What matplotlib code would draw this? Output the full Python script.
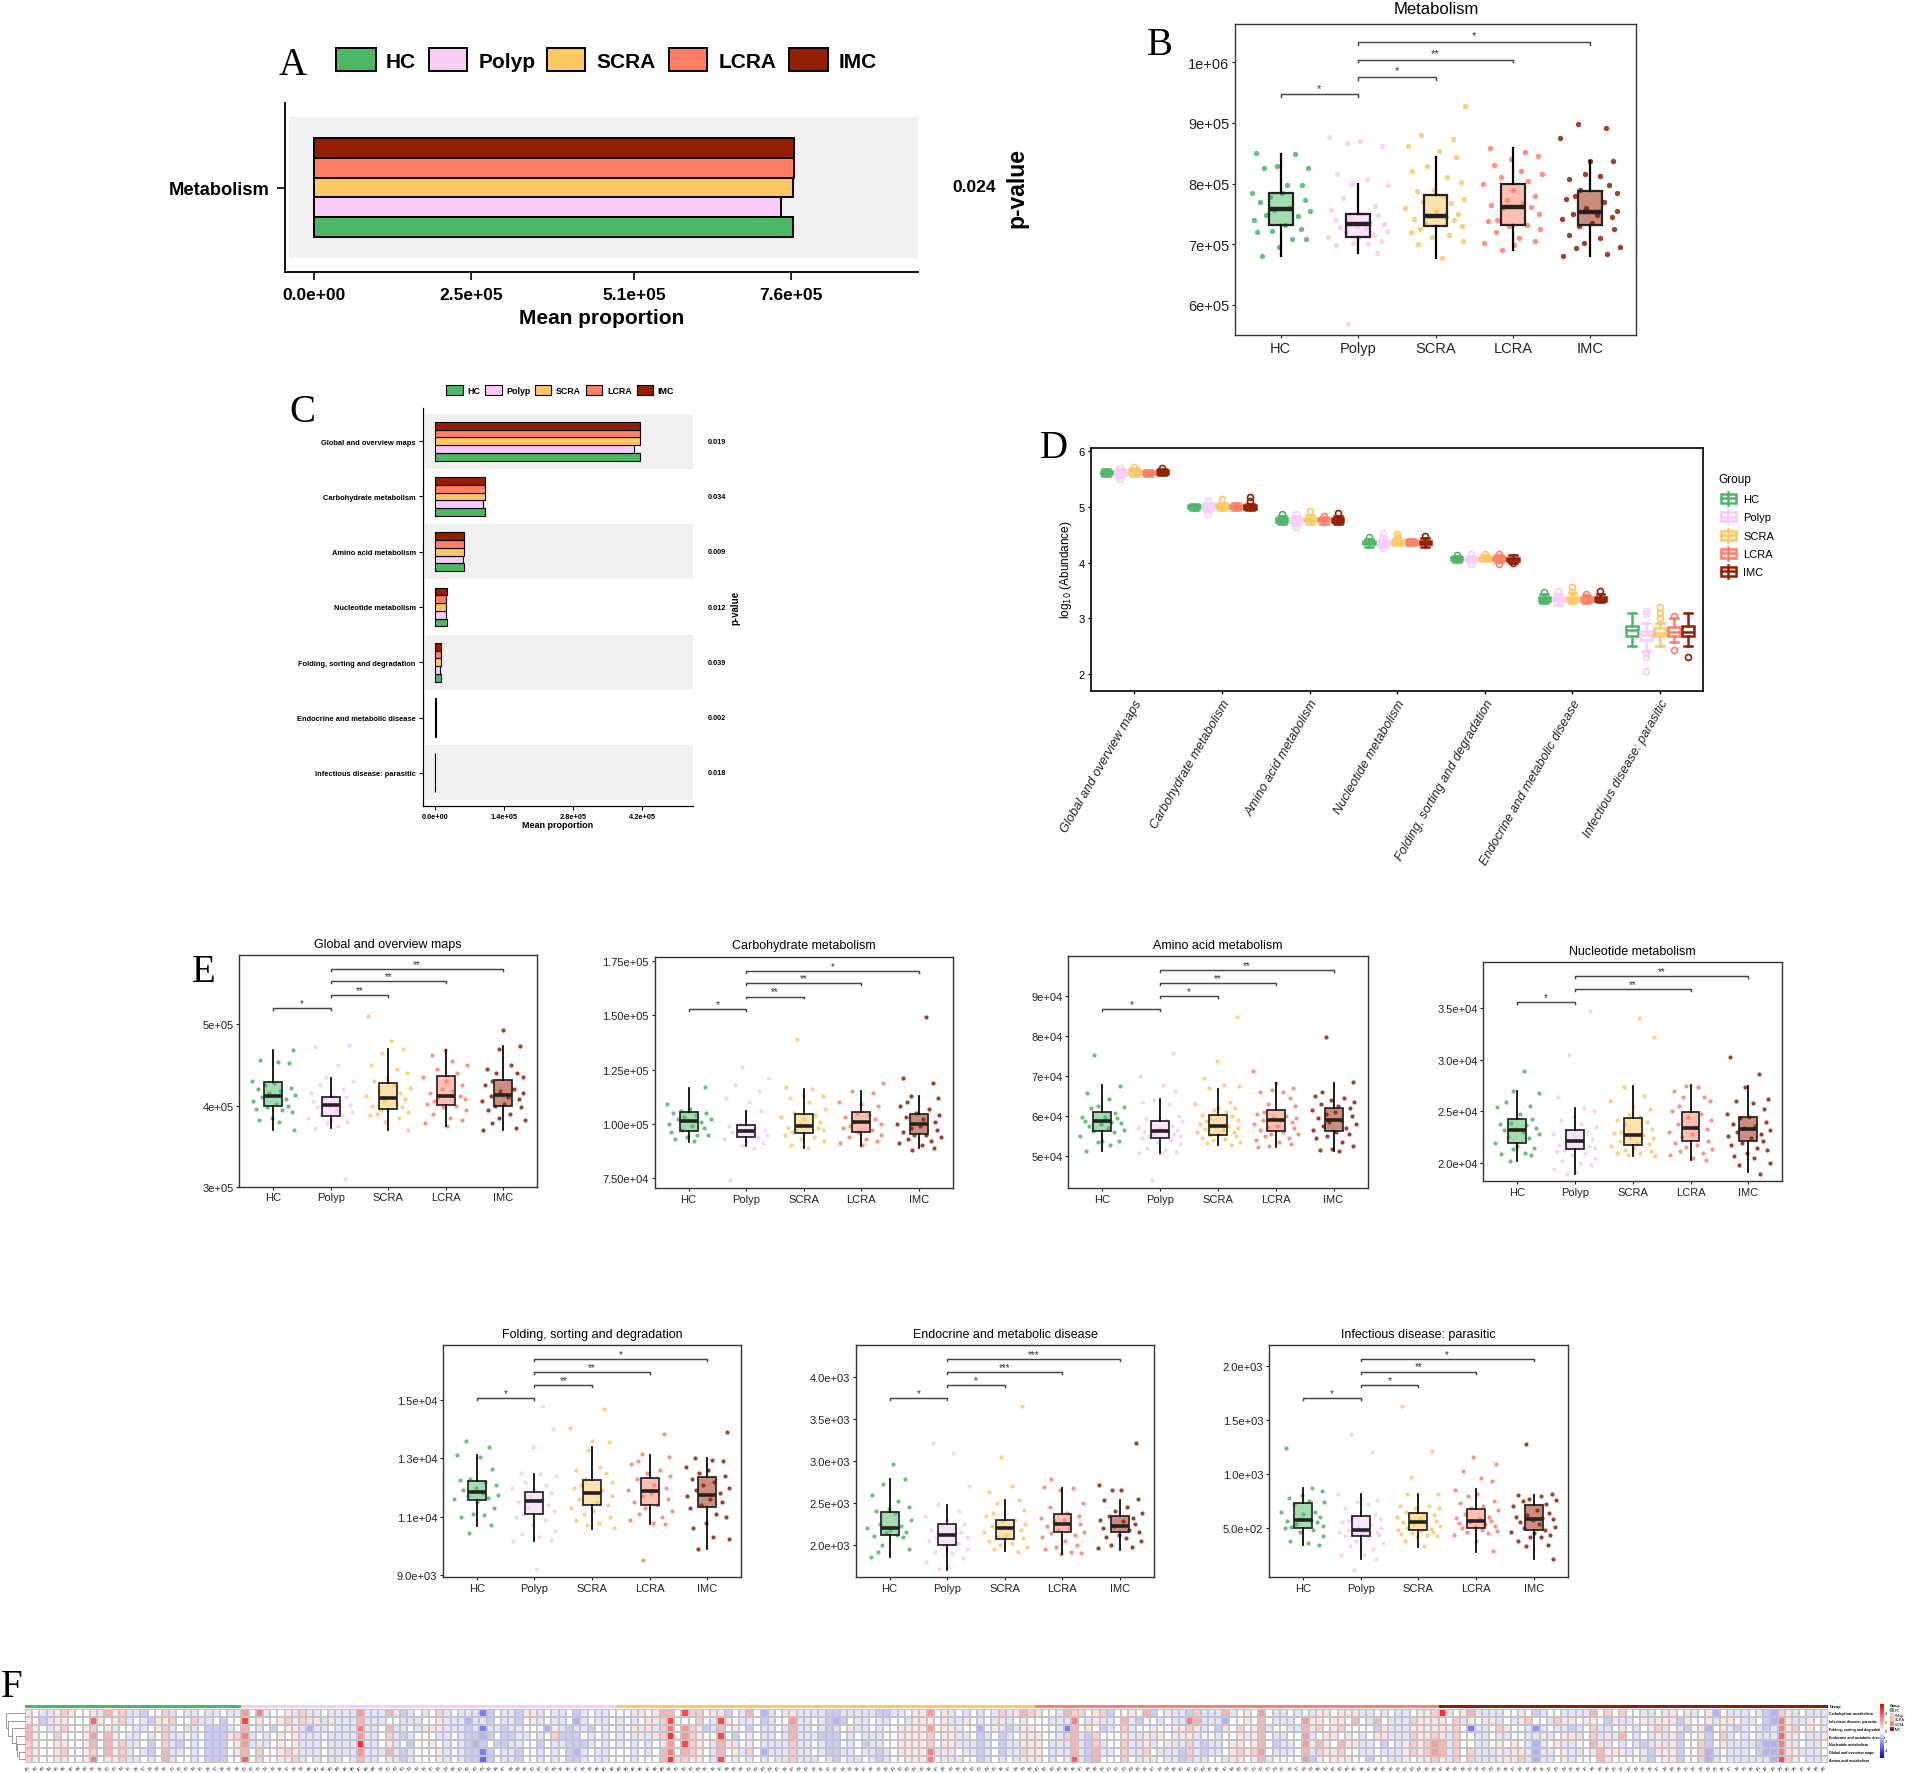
import matplotlib
matplotlib.use("Agg")
import matplotlib.pyplot as plt
import numpy as np
from matplotlib.patches import Rectangle
from matplotlib.lines import Line2D
from matplotlib.colors import LinearSegmentedColormap, ListedColormap, to_rgba

plt.rcParams['font.family'] = ['Liberation Sans', 'DejaVu Sans']
W, H = 1905, 1774
fig = plt.figure(figsize=(W / 100, H / 100), dpi=100, facecolor='white')

GROUPS = ['HC', 'Polyp', 'SCRA', 'LCRA', 'IMC']
COLORS = ['#4CB865', '#F9CBF9', '#FDC763', '#FF7F66', '#941E00']
CATS = ['Global and overview maps', 'Carbohydrate metabolism', 'Amino acid metabolism',
        'Nucleotide metabolism', 'Folding, sorting and degradation',
        'Endocrine and metabolic disease', 'Infectious disease: parasitic']
PVALS = ['0.019', '0.034', '0.009', '0.012', '0.039', '0.002', '0.018']

# Panel A
A_MEANS = [7.63e5, 7.43e5, 7.625e5, 7.65e5, 7.64e5]
# Panel C, group means per category (1e5)
C_MEANS = [[4.166, 4.03, 4.16, 4.165, 4.16],
           [1.014, 0.98, 1.012, 1.014, 1.012],
           [0.595, 0.572, 0.59, 0.59, 0.595],
           [0.237, 0.216, 0.232, 0.232, 0.235],
           [0.122, 0.108, 0.118, 0.118, 0.122],
           [0.0225, 0.021, 0.0222, 0.0226, 0.0225],
           [0.0058, 0.0052, 0.0056, 0.0057, 0.0058]]

# box values: q1, median, q3, low whisker, high whisker
METAB_BOX = [[7.31, 7.58, 7.85, 6.8, 8.48], [7.125, 7.34, 7.5, 6.86, 8.0], [7.3, 7.47, 7.81, 6.77, 8.44],
             [7.32, 7.62, 8.0, 6.9, 8.58], [7.32, 7.53, 7.88, 6.8, 8.38]]
METAB_PTS = [
    [8.51,8.48,8.29,8.26,8.25,7.98,7.98,7.85,7.84,7.78,7.72,7.7,7.6,7.56,7.54,7.48,7.47,7.4,7.32,7.25,7.22,7.2,7.08,7.08,6.96,6.81],
    [8.77,8.7,8.67,8.62,8.16,8.08,8.0,7.98,7.76,7.63,7.56,7.5,7.48,7.45,7.4,7.35,7.33,7.3,7.28,7.25,7.22,7.2,7.15,7.12,7.1,7.05,7.02,7.0,6.98,6.85,5.68],
    [9.28,8.8,8.74,8.62,8.53,8.44,8.29,8.2,8.1,8.02,7.9,7.88,7.8,7.75,7.7,7.68,7.6,7.55,7.5,7.47,7.45,7.42,7.4,7.35,7.3,7.25,7.2,7.15,7.12,7.05,7.0,6.77],
    [8.58,8.52,8.45,8.4,8.3,8.2,8.15,8.1,8.05,8.0,7.9,7.8,7.72,7.68,7.65,7.62,7.6,7.5,7.4,7.38,7.32,7.3,7.25,7.2,7.1,7.05,7.02,6.98,6.9],
    [8.99,8.91,8.75,8.38,8.37,8.15,8.13,8.08,7.97,7.9,7.85,7.8,7.75,7.7,7.6,7.55,7.5,7.48,7.45,7.42,7.35,7.3,7.25,7.15,7.1,7.02,6.96,6.94,6.84,6.8]]
METAB_BR = [9.47, 9.755, 10.04, 10.33]
METAB_STARS = ['*', '*', '**', '*']

GLOBAL_BOX = [[3.99,4.123,4.287,3.7,4.68],[3.877,4.01,4.1,3.72,4.337],[3.96,4.094,4.275,3.7,4.7],
              [4.01,4.12,4.36,3.75,4.68],[4.0,4.13,4.32,3.7,4.73]]
GLOBAL_PTS = [
    [4.68,4.56,4.54,4.53,4.3,4.28,4.25,4.22,4.2,4.18,4.16,4.13,4.1,4.08,4.05,4.02,4.0,3.98,3.96,3.95,3.92,3.85,3.82,3.8,3.7],
    [4.75,4.72,4.5,4.35,4.3,4.25,4.2,4.15,4.12,4.1,4.08,4.05,4.03,4.01,4.0,3.98,3.95,3.92,3.9,3.88,3.85,3.82,3.8,3.78,3.75,3.72,3.1],
    [5.1,4.8,4.7,4.65,4.5,4.45,4.4,4.35,4.3,4.25,4.22,4.18,4.15,4.12,4.1,4.08,4.05,4.03,4.0,3.98,3.95,3.92,3.9,3.88,3.85,3.8,3.7],
    [4.68,4.62,4.55,4.5,4.45,4.4,4.35,4.3,4.25,4.2,4.18,4.15,4.12,4.1,4.08,4.05,4.02,4.0,3.98,3.95,3.9,3.85,3.82,3.78,3.75],
    [4.93,4.73,4.7,4.5,4.45,4.4,4.4,4.35,4.3,4.25,4.2,4.18,4.15,4.12,4.1,4.08,4.05,4.02,4.0,3.98,3.95,3.9,3.85,3.82,3.78,3.72,3.7]]
GLOBAL_BR = [5.20, 5.36, 5.53, 5.68]
GLOBAL_STARS = ['*', '**', '**', '**']

CARB_BOX = [[0.968,1.015,1.054,0.917,1.167],[0.937,0.968,0.992,0.896,1.057],[0.959,0.988,1.043,0.89,1.16],
            [0.96,1.006,1.055,0.896,1.152],[0.951,0.997,1.044,0.887,1.129]]
CARB_PTS = [
    [1.17,1.09,1.07,1.06,1.05,1.05,1.04,1.03,1.02,1.02,1.01,1.0,0.99,0.98,0.97,0.96,0.95,0.95,0.94,0.93,0.92],
    [1.26,1.21,1.18,1.15,1.12,1.1,1.06,1.0,0.99,0.98,0.97,0.97,0.96,0.96,0.95,0.95,0.94,0.93,0.92,0.91,0.9,0.89,0.74],
    [1.39,1.17,1.16,1.13,1.13,1.12,1.1,1.07,1.05,1.04,1.03,1.02,1.01,1.0,0.99,0.98,0.98,0.97,0.97,0.96,0.95,0.94,0.93,0.92,0.9,0.89],
    [1.19,1.15,1.14,1.1,1.09,1.08,1.05,1.04,1.03,1.02,1.01,1.0,0.99,0.98,0.97,0.96,0.95,0.94,0.93,0.92,0.91,0.9],
    [1.49,1.21,1.19,1.13,1.12,1.1,1.08,1.07,1.05,1.04,1.03,1.02,1.01,1.0,0.99,0.98,0.97,0.96,0.95,0.95,0.94,0.93,0.92,0.91,0.9,0.89,0.88]]
CARB_BR = [1.528, 1.586, 1.647, 1.705]
CARB_STARS = ['*', '**', '**', '*']

AMINO_BOX = [[5.625,5.89,6.1,5.125,6.77],[5.45,5.63,5.87,5.09,6.43],[5.54,5.75,6.03,5.29,6.69],
             [5.63,5.91,6.15,5.225,6.825],[5.64,5.91,6.2,5.125,6.84]]
AMINO_PTS = [
    [7.54,6.76,6.59,6.43,6.25,6.24,6.2,6.08,5.98,5.97,5.95,5.9,5.87,5.85,5.82,5.8,5.75,5.7,5.65,5.62,5.6,5.5,5.38,5.37,5.35,5.29,5.13],
    [7.57,7.0,6.77,6.64,6.4,6.35,6.3,6.0,5.95,5.92,5.9,5.87,5.8,5.75,5.7,5.7,5.65,5.65,5.6,5.6,5.55,5.55,5.5,5.5,5.45,5.4,5.35,5.3,5.2,5.15,5.1,5.08,5.07,4.4],
    [8.47,7.37,6.96,6.77,6.76,6.7,6.35,6.3,6.2,6.2,6.15,6.1,6.03,6.0,5.95,5.9,5.87,5.8,5.75,5.72,5.7,5.68,5.65,5.6,5.6,5.55,5.52,5.5,5.45,5.42,5.4,5.35,5.33,5.29],
    [7.14,6.82,6.7,6.65,6.6,6.6,6.45,6.3,6.25,6.1,6.05,6.0,5.95,5.95,5.9,5.9,5.85,5.8,5.75,5.72,5.7,5.65,5.6,5.55,5.55,5.5,5.45,5.4,5.35,5.3,5.25,5.22],
    [7.98,6.85,6.6,6.5,6.45,6.4,6.35,6.3,6.25,6.2,6.15,6.1,6.05,6.0,5.95,5.9,5.85,5.8,5.75,5.7,5.65,5.6,5.55,5.5,5.45,5.35,5.25,5.18,5.15,5.13]]
AMINO_BR = [8.68, 9.01, 9.33, 9.66]
AMINO_STARS = ['*', '*', '**', '**']

NUCL_BOX = [[2.2,2.318,2.427,2.026,2.694],[2.14,2.218,2.32,1.9,2.536],[2.177,2.273,2.44,2.07,2.748],
            [2.215,2.344,2.495,2.035,2.758],[2.212,2.328,2.443,1.913,2.742]]
NUCL_PTS = [
    [2.89,2.7,2.68,2.59,2.55,2.54,2.48,2.43,2.39,2.38,2.37,2.34,2.33,2.32,2.3,2.28,2.25,2.24,2.2,2.17,2.15,2.14,2.1,2.09,2.08,2.02],
    [3.47,3.04,2.64,2.53,2.5,2.45,2.42,2.38,2.35,2.32,2.3,2.28,2.25,2.23,2.22,2.2,2.18,2.17,2.16,2.15,2.13,2.12,2.1,2.08,2.05,2.02,2.0,1.98,1.95,1.92,1.9],
    [3.4,3.22,2.74,2.65,2.6,2.55,2.52,2.48,2.45,2.42,2.4,2.38,2.33,2.3,2.29,2.27,2.25,2.24,2.22,2.2,2.19,2.17,2.15,2.13,2.12,2.1,2.1,2.08,2.07],
    [2.75,2.74,2.7,2.64,2.64,2.6,2.55,2.5,2.48,2.45,2.42,2.38,2.35,2.33,2.3,2.28,2.25,2.22,2.2,2.18,2.16,2.14,2.12,2.1,2.08,2.05,2.03],
    [3.02,2.86,2.74,2.62,2.6,2.58,2.52,2.48,2.45,2.44,2.4,2.38,2.36,2.34,2.32,2.3,2.28,2.26,2.24,2.22,2.2,2.18,2.15,2.13,2.1,2.07,2.05,2.0,1.98,1.9]]
NUCL_BR = [3.555, None, 3.68, 3.805]
NUCL_STARS = ['*', '', '**', '**']

FOLD_BOX = [[11.57,11.83,12.22,10.69,13.11],[11.09,11.53,11.85,10.18,12.45],[11.41,11.81,12.25,10.58,13.38],
            [11.41,11.89,12.33,10.75,13.11],[11.34,11.74,12.37,9.89,13.0]]
FOLD_PTS = [
    [13.6,13.4,13.1,13.05,12.65,12.3,12.25,12.2,12.1,12.0,11.9,11.8,11.75,11.7,11.65,11.6,11.5,11.3,11.1,11.05,11.0,10.7,10.45],
    [14.8,14.0,13.4,12.5,12.45,12.4,12.2,12.1,12.0,11.9,11.8,11.7,11.6,11.5,11.4,11.3,11.2,11.1,11.0,10.9,10.7,10.5,10.4,10.3,10.2,10.15,9.2],
    [14.7,14.05,13.6,13.55,13.3,12.7,12.6,12.5,12.3,12.2,12.1,12.0,11.9,11.8,11.7,11.6,11.5,11.4,11.3,11.2,11.1,11.0,10.9,10.8,10.7,10.6],
    [13.85,13.15,13.05,12.9,12.8,12.6,12.5,12.4,12.3,12.1,12.0,11.9,11.8,11.7,11.6,11.5,11.4,11.3,11.2,11.1,11.0,10.9,10.8,10.75,9.5],
    [13.9,13.0,12.95,12.9,12.7,12.6,12.5,12.4,12.3,12.2,12.1,12.0,11.9,11.8,11.7,11.6,11.5,11.4,11.3,11.1,11.0,10.8,10.6,10.3,10.25,9.9]]
FOLD_BR = [15.06, 15.51, 15.97, 16.41]
FOLD_STARS = ['*', '**', '**', '*']

ENDO_BOX = [[2.12,2.2,2.397,1.86,2.78],[2.0,2.12,2.25,1.706,2.48],[2.07,2.2,2.3,1.93,2.54],
            [2.15,2.25,2.37,1.89,2.68],[2.15,2.22,2.345,1.94,2.54]]
ENDO_PTS = [
    [2.97,2.78,2.72,2.59,2.52,2.45,2.43,2.4,2.38,2.3,2.25,2.22,2.2,2.18,2.16,2.14,2.12,2.11,2.1,2.0,1.95,1.92,1.86],
    [3.21,3.09,2.7,2.49,2.4,2.35,2.3,2.25,2.22,2.2,2.18,2.15,2.12,2.1,2.08,2.05,2.02,2.0,1.95,1.92,1.9,1.85,1.8,1.75,1.71],
    [3.65,3.05,2.7,2.63,2.54,2.5,2.42,2.38,2.35,2.3,2.28,2.25,2.22,2.2,2.18,2.15,2.12,2.1,2.08,2.05,2.02,2.0,1.98,1.95,1.92],
    [2.78,2.69,2.68,2.65,2.5,2.45,2.38,2.35,2.32,2.3,2.28,2.25,2.22,2.2,2.18,2.16,2.14,2.12,2.1,2.05,2.0,1.98,1.95,1.92,1.9,1.89],
    [3.21,2.71,2.66,2.65,2.55,2.54,2.45,2.4,2.38,2.35,2.32,2.3,2.28,2.25,2.22,2.2,2.18,2.15,2.12,2.1,2.08,2.05,2.0,1.98,1.96]]
ENDO_BR = [3.746, 3.905, 4.063, 4.214]
ENDO_STARS = ['*', '*', '***', '***']

INFE_BOX = [[0.5,0.571,0.732,0.339,0.869],[0.426,0.481,0.612,0.209,0.813],[0.481,0.55,0.639,0.317,0.813],
            [0.497,0.565,0.674,0.277,0.859],[0.475,0.58,0.711,0.209,0.807]]
INFE_PTS = [
    [1.24,0.87,0.84,0.8,0.78,0.75,0.74,0.72,0.65,0.65,0.63,0.6,0.58,0.57,0.56,0.55,0.53,0.52,0.51,0.5,0.48,0.46,0.42,0.38,0.36,0.34],
    [1.37,1.2,0.81,0.78,0.76,0.74,0.72,0.68,0.63,0.6,0.58,0.56,0.55,0.53,0.51,0.5,0.48,0.47,0.46,0.46,0.45,0.44,0.43,0.42,0.4,0.38,0.36,0.33,0.3,0.25,0.25,0.21,0.11],
    [1.63,1.21,0.97,0.81,0.81,0.7,0.7,0.68,0.68,0.65,0.64,0.62,0.6,0.59,0.57,0.56,0.55,0.54,0.53,0.52,0.5,0.49,0.48,0.47,0.46,0.45,0.44,0.43,0.42,0.41,0.38,0.33],
    [1.16,1.09,1.03,0.96,0.93,0.85,0.81,0.79,0.75,0.73,0.7,0.68,0.66,0.63,0.6,0.59,0.58,0.56,0.55,0.54,0.53,0.52,0.51,0.5,0.48,0.47,0.46,0.45,0.43,0.38,0.28],
    [1.28,0.81,0.8,0.79,0.77,0.76,0.75,0.72,0.7,0.66,0.64,0.62,0.6,0.59,0.58,0.57,0.55,0.53,0.51,0.5,0.48,0.46,0.45,0.43,0.41,0.41,0.38,0.34,0.33,0.21]]
INFE_BR = [1.702, 1.826, 1.95, 2.068]
INFE_STARS = ['*', '*', '**', '*']

JITTER = [-0.32,0.18,-0.05,0.35,-0.22,0.08,0.28,-0.37,0.02,-0.14,0.31,-0.27,0.12,-0.08,0.38,-0.19,0.22,-0.35,0.05,0.26,
          -0.11,-0.3,0.15,0.33,-0.02,-0.24,0.1,0.37,-0.16,0.2,-0.39,0.0,0.29,-0.07,0.13,-0.28,0.24,-0.13,0.34,-0.2]

# Panel D: q1, median, q3, low, high, fliers (log10 abundance)
D_STATS = {
 0: [[5.59,5.62,5.65,5.55,5.68,[]],[5.58,5.62,5.66,5.54,5.68,[5.5,5.7]],[5.6,5.64,5.68,5.56,5.7,[5.72]],[5.59,5.62,5.65,5.56,5.67,[]],[5.6,5.63,5.66,5.57,5.68,[5.7]]],
 1: [[4.98,5.01,5.04,4.95,5.06,[]],[4.97,5.01,5.05,4.93,5.07,[4.87,5.1]],[4.98,5.01,5.05,4.94,5.08,[5.15]],[4.98,5.01,5.04,4.94,5.07,[]],[4.97,5.0,5.04,4.95,5.06,[5.1,5.18]]],
 2: [[4.73,4.77,4.8,4.69,4.84,[4.88]],[4.72,4.76,4.8,4.68,4.83,[4.64,4.87]],[4.74,4.77,4.81,4.7,4.85,[4.92]],[4.74,4.77,4.8,4.7,4.82,[4.84]],[4.73,4.77,4.8,4.7,4.84,[4.9]]],
 3: [[4.33,4.36,4.39,4.29,4.42,[4.46]],[4.32,4.35,4.39,4.29,4.43,[4.26,4.45,4.53]],[4.34,4.37,4.4,4.31,4.44,[4.47,4.52]],[4.34,4.37,4.4,4.31,4.43,[]],[4.33,4.37,4.39,4.28,4.44,[4.48]]],
 4: [[4.05,4.07,4.1,4.02,4.12,[4.13]],[4.04,4.07,4.09,4.01,4.12,[3.97,4.16]],[4.05,4.08,4.1,4.03,4.14,[4.15]],[4.05,4.07,4.1,4.02,4.13,[3.98,4.15]],[4.03,4.06,4.09,4.0,4.14,[3.99]]],
 5: [[3.32,3.35,3.38,3.27,3.43,[3.48]],[3.31,3.34,3.38,3.24,3.44,[3.5]],[3.32,3.35,3.39,3.28,3.45,[3.48,3.56]],[3.32,3.36,3.39,3.28,3.42,[3.44]],[3.32,3.35,3.39,3.29,3.43,[3.5]]],
 6: [[2.69,2.79,2.86,2.51,3.09,[]],[2.62,2.7,2.78,2.42,2.91,[2.05,2.3,2.38,3.08,3.13]],[2.68,2.74,2.83,2.5,2.92,[3.0,3.1,3.2]],
     [2.68,2.76,2.84,2.57,3.0,[2.43,3.05]],[2.68,2.76,2.86,2.5,3.1,[2.3]]]}

# Panel F: row labels, per-group column counts, cell levels (digit = red level, letter = blue level)
HEAT_ROWS = ['Carbohydrate metabolism', 'Infectious disease: parasitic', 'Folding, sorting and degradation',
             'Endocrine and metabolic disease', 'Nucleotide metabolism', 'Global and overview maps', 'Amino acid metabolism']
HEAT_COUNTS = [30, 52, 58, 56, 54]
HEAT_LEVELS = [
 "10aa121001 a312aab002 a0aa0aa0aa 4051001a2a a0aaaa4aaa 3aba0a02a0 aaaeb0aab1 1a0aa0ba0aa0 "
 "0011013307 22011b0a30 ca011aaaab baaaaabbaa 011401a0a0 a0a2a132 "
 "100a322012 b00103b01a ab2aaa3a01 040aa0a0a1 1011 1aa0a0 aa0112 "
 "8a013aaaa0 010ba00aaa a3020200aa 0a101a01c0 aaa0abc21a 0aaa",
 "10ba110006 1012a0ab11 2002aa0b00 7010012 12a 1a1aaa3aaa 00aaa001aa acaab0aab0 1a0aa0ca0aa0 "
 "a0a0112700 020a710aa0 ba004aa0ab cb0aa0aa00 a11101aa10 a0a1a010 "
 "00aaa50a1a a03ab00a0a a53aaac001 030aaa0411 01103 0a30a aa2111 "
 "102a1011a0 a1200a2110 110b1aa01a 111b1001a1 10aa0bc51a a10a",
 "310a120012 01a00aa012 a0aa0bbba0 30a0b011ac aa0aaa5aa0 3aa0a111aa abaeaabaa0 00c1abaab0a0 "
 "a01a1a2504 21ba3010b0 aa0a3aa0ab a01aa0a001 1114011a00 c01aba11 "
 "000ae301 0b a02a0010 01 121a0b1020 13a00aa312 01200 00b1a aa1111 "
 "1120eaa021 00ada0aaba 02aa010a01 2a0ab01c01 aba0aba512 010a",
 "3100200014 0310aa0a02 aa0a0bbb12 5a0a0101aa a0aaaa4aa0 2aba000aa0 abbcb0bbaa 0a02bbb0a0a0 "
 "a0a1a12804 2100 70b010 aa0a3aaabb b0a0aaa001 1112011aa0 ba0ba011 "
 "100a23ab20 001aa1a101 11a00a0011 130aa004a0 11010a011a aa2112 "
 "1a200aa0aa 00aa1a011a 02a1a30a0a 1a1b001b02 a0a0aaa611 0aa1",
 "2100110013 0312aa0b02 ab0a0bbb01 4a1a0101aa a0aaaa8aa0 1a0b0010a0 abcb0bbaa0 0b0aabbba0a0 "
 "a0a0a01407 210a31a010 aaaa2aa0ab b0a0baa001 1112011aaa ba0baa11 "
 "10aaa3ab2a 002aa1a01a a2aba a0110 130baa0413 10311aa0b0 a12124 "
 "3a200aa010 10ac a01aa0 031a0a0aba 1a1b002b01 aaaab cc51a 0aa0",
 "2100120012 0312a0ab03 aa0a0bbb01 302 0012 1aa a0aaaa4aaa 3aba00 01a0 abbeb0aab0 0a0a0bca0aa0 "
 "00a0a03503 210a301a20 caaa2aa0ab baa0aaba01 1115a1a0aa ba0baa21 "
 "10aaa3ab3a a02aa20aaa b2abaa0121 240aaa03a2 11200aa0aa a12124 "
 "3a202aaa1a 11acaa01aa 0131 11a0ab 111b002ca0 aaa0bcc511 aaa0",
 "2100110015 0112aa0a03 a00a0bbb00 602 0011 2a0 a0aa0a3aa0 1aba00 01a0 abbfb0aab0 0a0a0bba0aa0 "
 "00a0003812 110a7010a0 a0aa2aaa0a b0aa0aba00 1115 01aa00 ba0a0a11 "
 "10a016ab30 00 20a1a0aa b2aa00a110 13a00004b1 01110 0b00a a10112 "
 "1a202aaa11 12acaa01a0 0031 00 00ab 011b002ca0 aaaaaac721 0aa1"]
HEAT_STEP = 0.6
DENDRO_H = [18.7, 17.0, 13.0, 9.4, 8.0, 6.0]
CBAR_TICKS = [4, 2, 0, -2, -4]


def ax_px(x0, y0, x1, y1, **kw):
    return fig.add_axes([x0 / W, 1 - y1 / H, (x1 - x0) / W, (y1 - y0) / H], **kw)


def txt(x, y, s, **kw):
    kw.setdefault('va', 'center')
    kw.setdefault('ha', 'left')
    return fig.text(x / W, 1 - y / H, s, **kw)


def rect_px(x0, y0, x1, y1, **kw):
    fig.add_artist(Rectangle((x0 / W, 1 - y1 / H), (x1 - x0) / W, (y1 - y0) / H,
                             transform=fig.transFigure, **kw))


def line_px(xs, ys, **kw):
    fig.add_artist(Line2D([x / W for x in xs], [1 - y / H for y in ys], transform=fig.transFigure, **kw))


def letter(x, y, s):
    txt(x, y, s, family='Liberation Serif', fontsize=28, va='baseline')


for s, x, y in [('A', 279, 75), ('B', 1147, 55), ('C', 289, 422), ('D', 1040, 458), ('E', 192, 982), ('F', 1, 1697)]:
    letter(x, y, s)


def hbars(ax, y, vals, total, lw):
    h = total / 5
    for g, v in enumerate(vals):
        ax.barh(y + (g - 2) * h, v, height=h, color=COLORS[g], edgecolor='black', linewidth=lw, zorder=3)


# ---------- A ----------
ax = ax_px(285, 104, 918, 273)
ax.set_xlim(-0.462e5, 9.62e5)
ax.set_ylim(0.4, 1.6)
ax.axhspan(0.5, 1.5, xmin=4 / 633, xmax=1, color='#F0F0F0', lw=0, zorder=0)
hbars(ax, 1, A_MEANS, 0.7, 1.4)
ax.set_yticks([1])
ax.set_yticklabels(['Metabolism'], fontsize=13.2, fontweight='bold')
ax.set_xticks([0, 2.5e5, 5.1e5, 7.6e5])
ax.set_xticklabels(['0.0e+00', '2.5e+05', '5.1e+05', '7.6e+05'], fontsize=12.5, fontweight='bold')
ax.tick_params(length=6, width=1.2, pad=5)
for s in ['top', 'right']:
    ax.spines[s].set_visible(False)
for s in ['left', 'bottom']:
    ax.spines[s].set_linewidth(1.3)
txt(601.6, 318, 'Mean proportion', fontsize=15, fontweight='bold', ha='center')
txt(974, 188, '0.024', fontsize=12.5, fontweight='bold', ha='center')
txt(1017, 188, 'p-value', fontsize=16.5, fontweight='bold', rotation=90, ha='center')
for g, (x0, x1, tx) in enumerate([(336, 375.6, 386), (428.7, 467, 479), (546.5, 585, 596.5), (668.5, 707, 719), (789.4, 828, 839)]):
    rect_px(x0, 49, x1, 72, facecolor=COLORS[g], edgecolor='black', linewidth=1.4)
    txt(tx, 62.5, GROUPS[g], fontsize=15, fontweight='bold')

# ---------- C ----------
ax = ax_px(422.7, 409, 693, 807)
ax.set_xlim(-0.25e5, 5.235e5)
ax.set_ylim(0.4, 7.6)
for k in [7, 5, 3, 1]:
    ax.axhspan(k - 0.5, k + 0.5, xmin=2 / 270.3, xmax=1, color='#F0F0F0', lw=0, zorder=0)
for i, m in enumerate(C_MEANS):
    hbars(ax, 7 - i, [v * 1e5 for v in m], 0.7, 0.8)
ax.set_yticks([7 - i for i in range(7)])
ax.set_yticklabels(CATS, fontsize=5.4, fontweight='bold')
ax.set_xticks([0, 1.4e5, 2.8e5, 4.2e5])
ax.set_xticklabels(['0.0e+00', '1.4e+05', '2.8e+05', '4.2e+05'], fontsize=5.3, fontweight='bold')
ax.tick_params(length=3, width=0.8, pad=2)
for s in ['top', 'right']:
    ax.spines[s].set_visible(False)
for s in ['left', 'bottom']:
    ax.spines[s].set_linewidth(0.9)
txt(557.7, 825.7, 'Mean proportion', fontsize=6.5, fontweight='bold', ha='center')
for i, p in enumerate(PVALS):
    ax.text(1.0 + 14.7 / 270.3, 7 - i, p, transform=ax.get_yaxis_transform(), fontsize=5.3, fontweight='bold', va='center')
txt(735, 607.7, 'p-value', fontsize=7, fontweight='bold', rotation=90, ha='center')
for g, (x0, x1, tx) in enumerate([(446.3, 463, 467), (485, 501.7, 506), (534.7, 551.3, 555.7), (585.7, 602.3, 607), (636.7, 653.3, 657.7)]):
    rect_px(x0, 385.7, x1, 395.7, facecolor=COLORS[g], edgecolor='black', linewidth=0.8)
    txt(tx, 391.2, GROUPS[g], fontsize=6.4, fontweight='bold')


# ---------- jitter boxplots ----------
def jitter_panel(pid, rect, title, title_xy, box, pts, unit, ylim, ticks, ticklabels, brackets, stars,
                 fs=8, tfs=9, ps=9.0, blw=1.25, mlw=2.6, sfs=7):
    ax = ax_px(*rect)
    ax.set_xlim(0.41, 5.59)
    ax.set_ylim(*ylim)
    for g in range(5):
        ys = np.array(pts[g]) * unit
        xs = [g + 1 + JITTER[(i + 7 * g + 3 * pid) % len(JITTER)] for i in range(len(ys))]
        ax.scatter(xs, ys, s=ps, color=COLORS[g], alpha=0.85, linewidths=0, zorder=2)
        q1, med, q3, lo, hi = [v * unit for v in box[g]]
        stat = dict(med=med, q1=q1, q3=q3, whislo=lo, whishi=hi, fliers=[])
        lc = '#222222'
        ax.bxp([stat], positions=[g + 1], widths=0.31, patch_artist=True, showfliers=False, showcaps=False,
               manage_ticks=False, zorder=3,
               boxprops=dict(facecolor=to_rgba(COLORS[g], 0.5), edgecolor=lc, linewidth=blw),
               medianprops=dict(color=lc, linewidth=mlw, solid_capstyle='butt'),
               whiskerprops=dict(color='black', linewidth=blw))
    rng = ylim[1] - ylim[0]
    pairs = [(1, 2), (2, 3), (2, 4), (2, 5)]
    for (a, b), br, st in zip(pairs, brackets, stars):
        if br is None:
            continue
        y = br * unit
        tip = 0.008 * rng
        ax.plot([a, a, b, b], [y - tip, y, y, y - tip], color='#444444', lw=1.05, zorder=4)
        ax.text((a + b) / 2, y + 0.022 * rng, st, ha='center', va='center', fontsize=sfs, color='#333333')
    ax.set_xticks(range(1, 6))
    ax.set_xticklabels(GROUPS, fontsize=fs)
    ax.set_yticks(ticks)
    ax.set_yticklabels(ticklabels, fontsize=fs)
    ax.tick_params(length=2.5, width=0.8, pad=1.6, colors='#222222')
    for s in ax.spines.values():
        s.set_linewidth(1.0)
        s.set_color('#333333')
    txt(title_xy[0], title_xy[1], title, fontsize=tfs, ha='center')
    return ax


jitter_panel(0, (1235, 24.7, 1636, 336), 'Metabolism', (1436, 9), METAB_BOX, METAB_PTS, 1e5,
             (5.5e5, 10.638e5), [6e5, 7e5, 8e5, 9e5, 1e6], ['6e+05', '7e+05', '8e+05', '9e+05', '1e+06'],
             METAB_BR, METAB_STARS, fs=10.5, tfs=12, ps=15, blw=1.6, mlw=3.2, sfs=8)
jitter_panel(1, (239.2, 955.7, 537.3, 1187.7), CATS[0], (388, 945), GLOBAL_BOX, GLOBAL_PTS, 1e5,
             (3.0e5, 5.858e5), [3e5, 4e5, 5e5], ['3e+05', '4e+05', '5e+05'], GLOBAL_BR, GLOBAL_STARS)
jitter_panel(2, (654.7, 957.7, 952.7, 1189.3), CATS[1], (803.7, 946), CARB_BOX, CARB_PTS, 1e5,
             (0.7025e5, 1.77e5), [0.75e5, 1e5, 1.25e5, 1.5e5, 1.75e5],
             ['7.50e+04', '1.00e+05', '1.25e+05', '1.50e+05', '1.75e+05'], CARB_BR, CARB_STARS)
jitter_panel(3, (1068.3, 957.3, 1367.7, 1189.3), CATS[2], (1217.7, 946), AMINO_BOX, AMINO_PTS, 1e4,
             (4.2e4, 10.0e4), [5e4, 6e4, 7e4, 8e4, 9e4], ['5e+04', '6e+04', '7e+04', '8e+04', '9e+04'],
             AMINO_BR, AMINO_STARS)
jitter_panel(4, (1483.3, 963.3, 1782.3, 1182), CATS[3], (1632.7, 952), NUCL_BOX, NUCL_PTS, 1e4,
             (1.83e4, 3.937e4), [2e4, 2.5e4, 3e4, 3.5e4], ['2.0e+04', '2.5e+04', '3.0e+04', '3.5e+04'],
             NUCL_BR, NUCL_STARS)
jitter_panel(5, (442.8, 1346, 741.3, 1578.3), CATS[4], (592, 1335), FOLD_BOX, FOLD_PTS, 1e3,
             (8.92e3, 16.89e3), [9e3, 11e3, 13e3, 15e3], ['9.0e+03', '1.1e+04', '1.3e+04', '1.5e+04'],
             FOLD_BR, FOLD_STARS)
jitter_panel(6, (855.7, 1346, 1154, 1578.3), CATS[5], (1005, 1335), ENDO_BOX, ENDO_PTS, 1e3,
             (1.615e3, 4.381e3), [2e3, 2.5e3, 3e3, 3.5e3, 4e3],
             ['2.0e+03', '2.5e+03', '3.0e+03', '3.5e+03', '4.0e+03'], ENDO_BR, ENDO_STARS)
jitter_panel(7, (1269, 1346, 1567.7, 1578), CATS[6], (1418, 1335), INFE_BOX, INFE_PTS, 1e3,
             (0.0414e3, 2.198e3), [0.5e3, 1e3, 1.5e3, 2e3], ['5.0e+02', '1.0e+03', '1.5e+03', '2.0e+03'],
             INFE_BR, INFE_STARS)

# ---------- D ----------
ax = ax_px(1091, 449, 1703, 692.3)
ax.set_xlim(0.505, 7.49)
ax.set_ylim(1.69, 6.06)
for i in range(7):
    for g in range(5):
        q1, med, q3, lo, hi, fl = D_STATS[i][g]
        stat = dict(med=med, q1=q1, q3=q3, whislo=lo, whishi=hi, fliers=fl)
        c = COLORS[g]
        ax.bxp([stat], positions=[i + 1 + (g - 2) * 0.16], widths=0.13, patch_artist=True, manage_ticks=False,
               boxprops=dict(facecolor='white', edgecolor=c, linewidth=1.8),
               medianprops=dict(color=c, linewidth=1.8),
               whiskerprops=dict(color=c, linewidth=1.8), capprops=dict(color=c, linewidth=1.8), capwidths=0.09,
               flierprops=dict(marker='o', markersize=4.3, markerfacecolor='none', markeredgecolor=c, markeredgewidth=1.2))
ax.set_xticks(range(1, 8))
ax.set_xticklabels(CATS, rotation=60, ha='right', rotation_mode='anchor', fontsize=9.2, style='italic', color='#222222')
ax.set_yticks([2, 3, 4, 5, 6])
ax.set_yticklabels(['2', '3', '4', '5', '6'], fontsize=8)
ax.tick_params(length=2.5, width=1.0, pad=2)
for s in ax.spines.values():
    s.set_linewidth(1.2)
txt(1066.5, 570, r'log$_{10}$ (Abundance)', fontsize=8.5, rotation=90, ha='center')
txt(1718.6, 480, 'Group', fontsize=8.5)
for g, yk in enumerate([499.3, 517.7, 536, 554, 572.3]):
    c = COLORS[g]
    line_px([1728, 1728], [yk - 6.5, yk + 6.5], color=c, lw=1.8)
    rect_px(1720.5, yk - 4.5, 1735.5, yk + 4.5, facecolor='white', edgecolor=c, linewidth=1.8)
    line_px([1720.5, 1735.5], [yk, yk], color=c, lw=1.8)
    txt(1743, yk + 0.5, GROUPS[g], fontsize=8)

# ---------- F ----------
levels = {'0': 0.0}
levels.update({str(i): i * HEAT_STEP for i in range(1, 10)})
levels.update({c: -(i + 1) * HEAT_STEP for i, c in enumerate('abcdefghi')})
rows = []
for r in HEAT_LEVELS:
    s = r.replace(' ', '').ljust(250, '0')[:250]
    rows.append([levels[c] for c in s])
heat = np.array(rows)
cmap = LinearSegmentedColormap.from_list('bwr2', ['#0000FF', '#FFFFFF', '#FF0000'])
ax = ax_px(25, 1710, 1828, 1764.3)
ax.pcolormesh(np.arange(251), np.arange(8), heat, cmap=cmap, vmin=-5.9, vmax=5.9, edgecolors='#C4C4C4', linewidth=0.28)
ax.set_ylim(7, 0)
ax.set_xlim(0, 250)
ax.yaxis.tick_right()
ax.set_yticks(np.arange(7) + 0.5)
ax.set_yticklabels(HEAT_ROWS, fontsize=2.5, fontweight='bold')
ax.set_xticks(np.arange(250) + 0.5)
ax.set_xticklabels(['%03d' % (i + 1) for i in range(250)], fontsize=2.2, rotation=45, ha='right', rotation_mode='anchor')
ax.tick_params(length=0, pad=1)
for s in ax.spines.values():
    s.set_visible(False)

an = ax_px(25, 1705.7, 1828, 1709.3)
ids = np.repeat(np.arange(5), HEAT_COUNTS)[None, :]
an.pcolormesh(np.arange(251), [0, 1], ids, cmap=ListedColormap(COLORS), vmin=-0.5, vmax=4.5)
an.axis('off')
txt(1830, 1707.5, 'Group', fontsize=2.8, fontweight='bold')

dn = ax_px(6, 1710, 25, 1764.3)
dn.set_xlim(19, 0)
dn.set_ylim(7, 0)
dn.axis('off')
ypos, hpos = 6.5, 0.0
for r, h in zip(range(5, -1, -1), DENDRO_H[::-1]):
    dn.plot([0, h, h, hpos], [r + 0.5, r + 0.5, ypos, ypos], color='#999999', lw=0.7, clip_on=False)
    ypos = (r + 0.5 + ypos) / 2
    hpos = h

cb = ax_px(1880, 1705, 1884, 1759)
cb.imshow(np.linspace(5.9, -5.9, 200)[:, None], aspect='auto', cmap=cmap, vmin=-5.9, vmax=5.9, extent=[0, 1, -5.9, 5.9])
cb.set_xticks([])
cb.yaxis.tick_right()
cb.set_yticks(CBAR_TICKS)
cb.set_yticklabels([str(t) for t in CBAR_TICKS], fontsize=2.6)
cb.tick_params(length=0, pad=0.8)
for s in cb.spines.values():
    s.set_visible(False)
txt(1889.6, 1706.5, 'Group', fontsize=2.6, fontweight='bold')
for g, (y0, y1) in enumerate([(1709.3, 1713.3), (1713.7, 1718), (1718.3, 1722.7), (1723, 1727.3), (1728, 1732)]):
    rect_px(1889.6, y0, 1894, y1, facecolor=COLORS[g], edgecolor='#B0B0B0', linewidth=0.2)
    txt(1895, (y0 + y1) / 2, GROUPS[g], fontsize=2.6)

fig.savefig('out.png', dpi=100, facecolor='white')
